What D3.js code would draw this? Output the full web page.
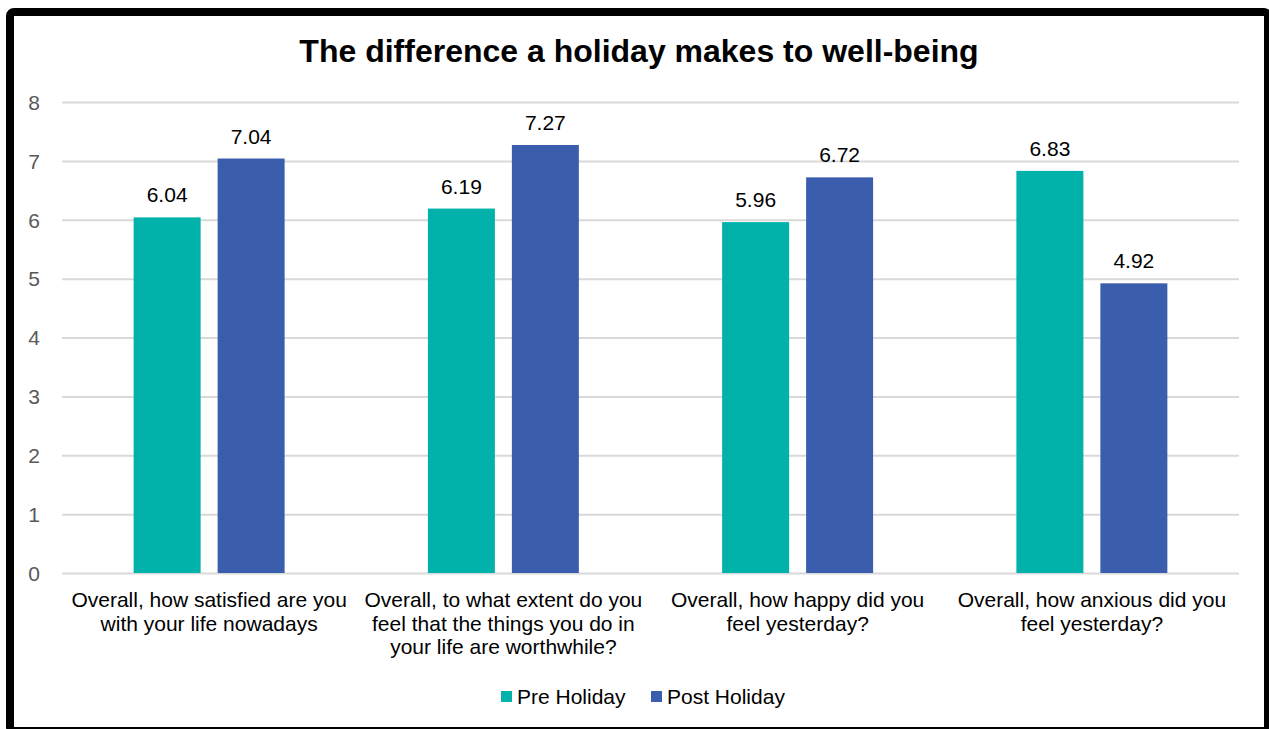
<!DOCTYPE html>
<html>
<head>
<meta charset="utf-8">
<script src="https://cdn.jsdelivr.net/npm/d3@7"></script>
<style>
  html, body { margin: 0; padding: 0; background: #fff; }
  svg { display: block; font-family: "Liberation Sans", Arial, sans-serif; }
</style>
</head>
<body>
<svg id="chart" width="1269" height="729"></svg>
<script>
const categories = [
  ["Overall, how satisfied are you", "with your life nowadays"],
  ["Overall, to what extent do you", "feel that the things you do in", "your life are worthwhile?"],
  ["Overall, how happy did you", "feel yesterday?"],
  ["Overall, how anxious did you", "feel yesterday?"]
];
const seriesNames = ["Pre Holiday", "Post Holiday"];
const preHoliday = [6.04, 6.19, 5.96, 6.83];
const postHoliday = [7.04, 7.27, 6.72, 4.92];
const yTicks = [0, 1, 2, 3, 4, 5, 6, 7, 8];
const colors = ["#00b2a9", "#3b5dad"];
const title = "The difference a holiday makes to well-being";

const svg = d3.select("#chart");
const W = 1269, H = 729;
const plot = { left: 62, right: 1239, top: 102, bottom: 573 };

// frame
svg.append("rect").attr("x", 0).attr("y", 0).attr("width", W).attr("height", H).attr("fill", "#fff");
svg.append("rect")
  .attr("x", 10).attr("y", 12).attr("width", 1258).attr("height", 719)
  .attr("rx", 4)
  .attr("fill", "#fff").attr("stroke", "#000").attr("stroke-width", 8);

// title
svg.append("text")
  .attr("x", 639).attr("y", 62)
  .attr("text-anchor", "middle")
  .attr("font-size", 32).attr("font-weight", "bold").attr("fill", "#000")
  .text(title);

const y = d3.scaleLinear().domain([0, 8]).range([plot.bottom, plot.top]);
const idx = d3.range(categories.length);
const x0 = d3.scaleBand().domain(idx).range([plot.left, plot.right]).paddingInner(0).paddingOuter(0);
const x1 = d3.scaleBand().domain([0, 1]).range([0, x0.bandwidth()]).paddingInner(0.2024).paddingOuter(0.853);

// gridlines
const yAxis = d3.axisLeft(y).tickValues(yTicks).tickSize(-(plot.right - plot.left)).tickFormat(d3.format("d"));
const gy = svg.append("g").attr("transform", `translate(${plot.left},0)`).call(yAxis);
gy.select(".domain").remove();
gy.selectAll(".tick line").attr("stroke", "#d9d9d9").attr("stroke-width", 2);
gy.selectAll(".tick text")
  .attr("x", -22).attr("dy", "0.35em")
  .attr("font-size", 21).attr("fill", "#595959")
  .attr("font-family", "Liberation Sans, Arial, sans-serif");

const data = idx.map(i => [preHoliday[i], postHoliday[i]]);

const groups = svg.append("g").selectAll("g").data(data).join("g")
  .attr("transform", (d, i) => `translate(${x0(i)},0)`);

groups.selectAll("rect").data(d => d).join("rect")
  .attr("x", (d, j) => x1(j))
  .attr("width", x1.bandwidth())
  .attr("y", d => y(d))
  .attr("height", d => y(0) - y(d))
  .attr("fill", (d, j) => colors[j]);

groups.selectAll("text.val").data(d => d).join("text")
  .attr("class", "val")
  .attr("x", (d, j) => x1(j) + x1.bandwidth() / 2)
  .attr("y", d => y(d) - 15)
  .attr("text-anchor", "middle")
  .attr("font-size", 21).attr("fill", "#000")
  .text(d => d.toFixed(2));

// category labels
const xAxisG = svg.append("g");
idx.forEach(i => {
  const cx = x0(i) + x0.bandwidth() / 2;
  const t = xAxisG.append("text")
    .attr("x", cx)
    .attr("y", 607)
    .attr("text-anchor", "middle")
    .attr("font-size", 21).attr("fill", "#000");
  categories[i].forEach((line, k) => {
    t.append("tspan").attr("x", cx).attr("dy", k === 0 ? 0 : 23.5).text(line);
  });
});

// legend
const legendItems = [{ x: 501, name: seriesNames[0], c: colors[0] }, { x: 651, name: seriesNames[1], c: colors[1] }];
const lg = svg.append("g");
legendItems.forEach(it => {
  lg.append("rect").attr("x", it.x).attr("y", 691).attr("width", 11).attr("height", 11).attr("fill", it.c);
  lg.append("text").attr("x", it.x + 16).attr("y", 704).attr("font-size", 21).attr("fill", "#000").text(it.name);
});
</script>
</body>
</html>
